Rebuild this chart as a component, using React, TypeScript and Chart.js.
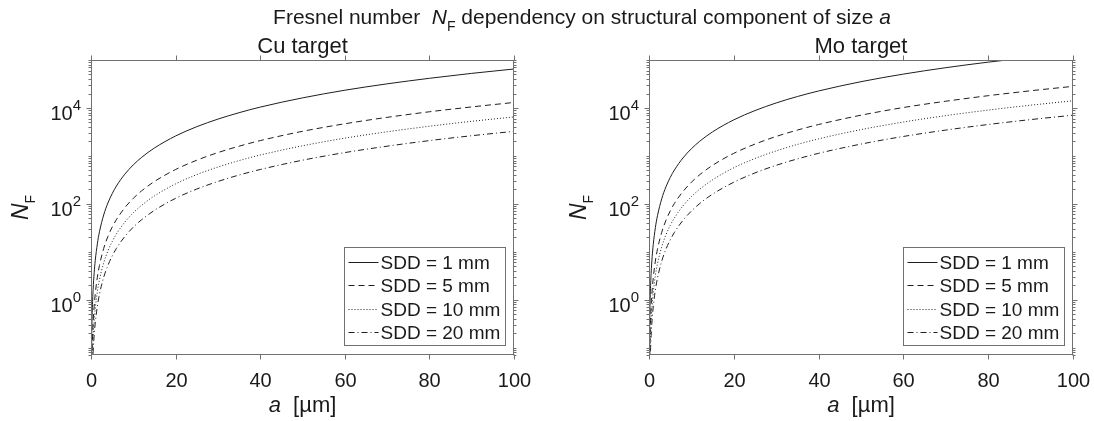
import React, { useEffect, useRef } from 'react';
import { Chart, registerables } from 'chart.js';

Chart.register(...registerables);

const W = 1094;
const H = 421;
const FONT = '"Liberation Sans", Arial, Helvetica, sans-serif';
const AXIS = '#707070';
const TEXT = '#1a1a1a';
const LINE = '#1e1e1e';

// a [µm]
const aValues = [0.1, 0.2, 0.3, 0.5, 0.75, 1, 1.5, 2, 3, 4, 5, 6, 8, 10, 12, 15, 20, 25, 30, 35, 40, 50, 60, 70, 80, 90, 100];

// Cu target, N_F
const cuSdd1 = [0.0649, 0.26, 0.584, 1.62, 3.65, 6.49, 14.6, 26.0, 58.4, 104, 162, 234, 415, 649, 935, 1460, 2600, 4060, 5840, 7950, 10400, 16200, 23400, 31800, 41500, 52600, 64900];
const cuSdd5 = [0.013, 0.0519, 0.117, 0.325, 0.73, 1.3, 2.92, 5.19, 11.7, 20.8, 32.5, 46.7, 83.1, 130, 187, 292, 519, 811, 1170, 1590, 2080, 3250, 4670, 6360, 8310, 10500, 13000];
const cuSdd10 = [0.00649, 0.026, 0.0584, 0.162, 0.365, 0.649, 1.46, 2.6, 5.84, 10.4, 16.2, 23.4, 41.5, 64.9, 93.5, 146, 260, 406, 584, 795, 1040, 1620, 2340, 3180, 4150, 5260, 6490];
const cuSdd20 = [0.00325, 0.013, 0.0292, 0.0811, 0.183, 0.325, 0.73, 1.3, 2.92, 5.19, 8.11, 11.7, 20.8, 32.5, 46.7, 73.0, 130, 203, 292, 398, 519, 811, 1170, 1590, 2080, 2630, 3250];

// Mo target, N_F
const moSdd1 = [0.141, 0.564, 1.27, 3.53, 7.93, 14.1, 31.7, 56.4, 127, 226, 353, 508, 902, 1410, 2030, 3170, 5640, 8810, 12700, 17300, 22600, 35300, 50800, 69100, 90200, 114000, 141000];
const moSdd5 = [0.0282, 0.113, 0.254, 0.705, 1.59, 2.82, 6.35, 11.3, 25.4, 45.1, 70.5, 102, 180, 282, 406, 635, 1130, 1760, 2540, 3450, 4510, 7050, 10200, 13800, 18000, 22800, 28200];
const moSdd10 = [0.0141, 0.0564, 0.127, 0.353, 0.793, 1.41, 3.17, 5.64, 12.7, 22.6, 35.3, 50.8, 90.2, 141, 203, 317, 564, 881, 1270, 1730, 2260, 3530, 5080, 6910, 9020, 11400, 14100];
const moSdd20 = [0.00705, 0.0282, 0.0635, 0.176, 0.397, 0.705, 1.59, 2.82, 6.35, 11.3, 17.6, 25.4, 45.1, 70.5, 102, 159, 282, 441, 635, 864, 1130, 1760, 2540, 3450, 4510, 5710, 7050];

const seriesLabels = ['SDD = 1 mm', 'SDD = 5 mm', 'SDD = 10 mm', 'SDD = 20 mm'];
const seriesDashes = [[], [6, 4], [1, 2], [6, 3, 1, 3]];
const xTicks = [0, 20, 40, 60, 80, 100];
const yTickExponents = [0, 2, 4];
const panelTitles = ['Cu target', 'Mo target'];
const Y_MIN = 0.07;
const Y_MAX = 1e5;

type Piece = { text: string; font: string; dy?: number };

function piecesWidth(ctx: CanvasRenderingContext2D, pieces: Piece[]) {
  let w = 0;
  for (const p of pieces) {
    ctx.font = p.font;
    w += ctx.measureText(p.text).width;
  }
  return w;
}

function drawPieces(ctx: CanvasRenderingContext2D, pieces: Piece[], x: number, y: number) {
  let cx = x;
  ctx.textAlign = 'left';
  ctx.textBaseline = 'alphabetic';
  for (const p of pieces) {
    ctx.font = p.font;
    ctx.fillText(p.text, cx, y + (p.dy || 0));
    cx += ctx.measureText(p.text).width;
  }
}

function makeDecor(title: string, withSuptitle: boolean) {
  return {
    id: 'decor',
    afterDraw(chart: any) {
      const ctx: CanvasRenderingContext2D = chart.ctx;
      const { left, right, top, bottom } = chart.chartArea;
      const xs = chart.scales.x;
      const ys = chart.scales.y;
      const L = Math.round(left) + 0.5;
      const R = Math.round(right) - 0.5;
      const T = Math.round(top) + 0.5;
      const B = Math.round(bottom) - 0.5;
      ctx.save();

      // legend
      const boxW = 161;
      const boxH = 98;
      const bx = Math.round(R - 9 - boxW) + 0.5;
      const by = Math.round(B - 10 - boxH) + 0.5;
      ctx.fillStyle = '#ffffff';
      ctx.fillRect(bx, by, boxW, boxH);
      ctx.strokeStyle = AXIS;
      ctx.lineWidth = 1;
      ctx.setLineDash([]);
      ctx.strokeRect(bx, by, boxW, boxH);
      chart.data.datasets.forEach((ds: any, i: number) => {
        const cy = Math.round(by + 14 + i * 23.5) + 0.5;
        ctx.strokeStyle = LINE;
        ctx.setLineDash(ds.borderDash || []);
        ctx.beginPath();
        ctx.moveTo(bx + 4, cy);
        ctx.lineTo(bx + 34, cy);
        ctx.stroke();
        ctx.setLineDash([]);
        ctx.fillStyle = TEXT;
        ctx.font = '19px ' + FONT;
        ctx.textAlign = 'left';
        ctx.textBaseline = 'middle';
        ctx.fillText(ds.label, bx + 36, cy + 1);
      });

      // frame
      ctx.strokeStyle = AXIS;
      ctx.lineWidth = 1;
      ctx.setLineDash([]);
      ctx.strokeRect(L, T, R - L, B - T);

      // x ticks
      ctx.fillStyle = TEXT;
      for (const v of xTicks) {
        const px = Math.round(xs.getPixelForValue(v)) + 0.5;
        ctx.beginPath();
        ctx.moveTo(px, B);
        ctx.lineTo(px, B + 5);
        ctx.moveTo(px, T);
        ctx.lineTo(px, T - 5);
        ctx.stroke();
        ctx.font = '20px ' + FONT;
        ctx.textAlign = 'center';
        ctx.textBaseline = 'alphabetic';
        ctx.fillText(String(v), px, B + 32);
      }

      // y minor ticks
      for (let e = -2; e <= 5; e++) {
        for (let m = 1; m <= 9; m++) {
          const v = m * Math.pow(10, e);
          if (v < Y_MIN || v > Y_MAX) continue;
          const py = Math.round(ys.getPixelForValue(v)) + 0.5;
          ctx.beginPath();
          ctx.moveTo(L, py);
          ctx.lineTo(L - 3, py);
          ctx.moveTo(R, py);
          ctx.lineTo(R + 3, py);
          ctx.stroke();
        }
      }
      // y major ticks + labels
      for (const e of yTickExponents) {
        const py = Math.round(ys.getPixelForValue(Math.pow(10, e))) + 0.5;
        ctx.beginPath();
        ctx.moveTo(L, py);
        ctx.lineTo(L - 5, py);
        ctx.moveTo(R, py);
        ctx.lineTo(R + 5, py);
        ctx.stroke();
        const base: Piece = { text: '10', font: '20px ' + FONT };
        const sup: Piece = { text: String(e), font: '15px ' + FONT };
        ctx.font = sup.font;
        const sw = ctx.measureText(sup.text).width;
        ctx.font = base.font;
        const bw = ctx.measureText(base.text).width;
        const xr = L - 10.5;
        ctx.textAlign = 'left';
        ctx.textBaseline = 'alphabetic';
        ctx.font = base.font;
        ctx.fillText(base.text, xr - sw - bw, py + 11);
        ctx.font = sup.font;
        ctx.fillText(sup.text, xr - sw, py + 1);
      }

      // subplot title
      ctx.fillStyle = TEXT;
      ctx.font = '22px ' + FONT;
      ctx.textAlign = 'center';
      ctx.textBaseline = 'alphabetic';
      ctx.fillText(title, (L + R) / 2, 53);

      // x label
      const xl: Piece[] = [
        { text: 'a', font: 'italic 22px ' + FONT },
        { text: '  [µm]', font: '22px ' + FONT },
      ];
      const xlw = piecesWidth(ctx, xl);
      drawPieces(ctx, xl, (L + R) / 2 - xlw / 2, 412);

      // y label
      const yl: Piece[] = [
        { text: 'N', font: 'italic 23px ' + FONT },
        { text: 'F', font: '14px ' + FONT, dy: 7 },
      ];
      const ylw = piecesWidth(ctx, yl);
      ctx.save();
      ctx.translate(L - 64, (T + B) / 2);
      ctx.rotate(-Math.PI / 2);
      drawPieces(ctx, yl, -ylw / 2, 0);
      ctx.restore();

      if (withSuptitle) {
        const st: Piece[] = [
          { text: 'Fresnel number  ', font: '21px ' + FONT },
          { text: 'N', font: 'italic 21px ' + FONT },
          { text: 'F', font: '14px ' + FONT, dy: 7 },
          { text: ' dependency on structural component of size ', font: '21px ' + FONT },
          { text: 'a', font: 'italic 21px ' + FONT },
        ];
        const sw = piecesWidth(ctx, st);
        drawPieces(ctx, st, 582 - sw / 2, 24);
      }
      ctx.restore();
    },
  };
}

function buildDatasets(series: number[][]) {
  return series.map((vals, i) => ({
    label: seriesLabels[i],
    data: aValues.map((a, j) => ({ x: a, y: vals[j] })),
    borderColor: LINE,
    borderWidth: 1,
    borderDash: seriesDashes[i],
    pointRadius: 0,
    fill: false,
    cubicInterpolationMode: 'monotone' as const,
  }));
}

function makeChart(canvas: HTMLCanvasElement, idx: number) {
  const series = idx === 0 ? [cuSdd1, cuSdd5, cuSdd10, cuSdd20] : [moSdd1, moSdd5, moSdd10, moSdd20];
  const padding = idx === 0
    ? { left: 91, right: W - 514, top: 60, bottom: H - 355 }
    : { left: 649, right: W - 1073, top: 60, bottom: H - 355 };
  return new Chart(canvas, {
    type: 'line',
    data: { datasets: buildDatasets(series) as any },
    options: {
      animation: false,
      responsive: false,
      events: [],
      devicePixelRatio: 1,
      layout: { padding },
      plugins: { legend: { display: false }, title: { display: false }, tooltip: { enabled: false } },
      scales: {
        x: { type: 'linear', min: 0, max: 100, display: false },
        y: { type: 'logarithmic', min: Y_MIN, max: Y_MAX, display: false },
      },
    },
    plugins: [makeDecor(panelTitles[idx], idx === 0)],
  });
}

export default function App() {
  const ref1 = useRef<HTMLCanvasElement>(null);
  const ref2 = useRef<HTMLCanvasElement>(null);
  useEffect(() => {
    const c1 = makeChart(ref1.current!, 0);
    const c2 = makeChart(ref2.current!, 1);
    return () => {
      c1.destroy();
      c2.destroy();
    };
  }, []);
  const cs: React.CSSProperties = { position: 'absolute', left: 0, top: 0, width: W, height: H };
  return (
    <div style={{ position: 'fixed', left: 0, top: 0, width: W, height: H, background: '#fff' }}>
      <canvas ref={ref1} width={W} height={H} style={cs} />
      <canvas ref={ref2} width={W} height={H} style={cs} />
    </div>
  );
}
